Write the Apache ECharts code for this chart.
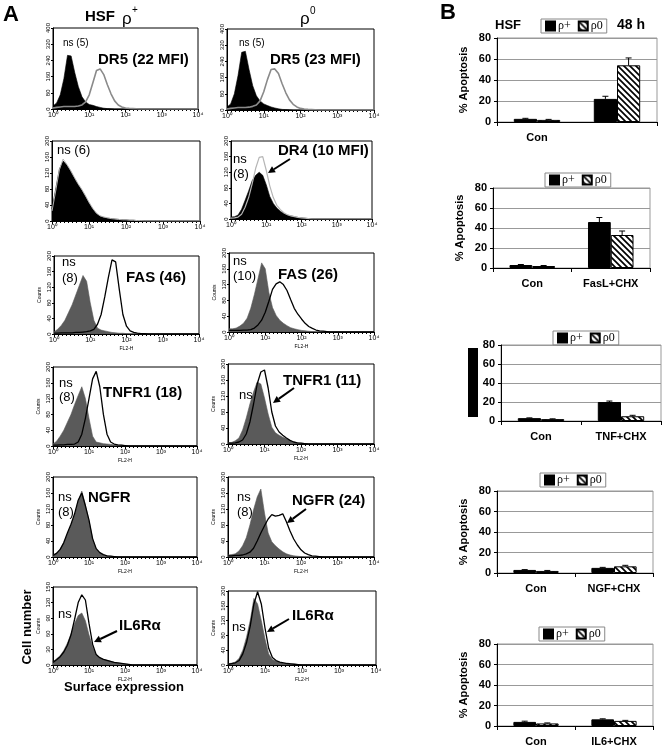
<!DOCTYPE html>
<html><head><meta charset="utf-8">
<script src="https://cdn.jsdelivr.net/npm/echarts@6/dist/echarts.min.js"></script>
<style>html,body{margin:0;padding:0;background:#fff}#c{width:663px;height:750px}</style>
</head><body><div id="c"></div>
<script>
// ---------- DATA ----------
// channel positions (decades, 10^x)
const LOGX = [0,0.1,0.2,0.3,0.4,0.5,0.6,0.7,0.8,0.9,1.0,1.1,1.2,1.3,1.4,1.5,1.6,1.7,1.8,1.9,2.0,2.1,2.2,2.3,2.4,2.5,2.6,2.7,2.8,2.9,3.0,4.0];
const X_TICK_LABELS = ['10\u2070','10\u00b9','10\u00b2','10\u00b3','10\u2074'];

// Row 1: DR5
const R1L_NS  = [15,30,70,150,265,262,180,110,60,35, 22,18,12,8,4,2,1,0,0,0, 0,0,0,0,0,0,0,0,0,0, 0,0];
const R1L_AB  = [5,8,10,12,12,12,12,15,20,35, 70,130,190,198,170,120,75,40,20,10, 5,3,2,1,0,0,0,0,0,0, 0,0];
const R1R_NS  = [15,30,80,170,285,290,200,120,70,45, 30,22,15,10,6,3,2,1,0,0, 0,0,0,0,0,0,0,0,0,0, 0,0];
const R1R_AB  = [5,8,10,12,12,12,14,18,25,45, 90,150,200,203,180,130,85,50,28,15, 8,5,3,2,1,0,0,0,0,0, 0,0];
// Row 2: DR4
const R2L_NS  = [30,80,130,150,140,125,108,92,78,62, 45,30,18,12,9,7,6,5,4,3, 3,2,2,1,1,0,0,0,0,0, 0,0];
const R2L_AB  = [25,75,128,155,142,127,110,94,80,64, 47,32,20,13,10,8,6,5,4,3, 3,2,2,1,1,0,0,0,0,0, 0,0];
const R2R_NS  = [5,6,10,25,48,72,98,112,120,112, 88,58,40,28,20,14,10,8,6,4, 3,2,1,0,0,0,0,0,0,0, 0,0];
const R2R_AB  = [2,3,5,12,30,55,90,130,158,160, 125,85,55,35,24,16,11,8,6,4, 3,2,1,0,0,0,0,0,0,0, 0,0];
// Row 3: FAS
const R3L_NS  = [5,12,22,35,55,75,100,125,150,135, 80,35,15,10,8,6,4,3,2,2, 1,0,0,0,0,0,0,0,0,0, 0,0];
const R3L_AB  = [2,2,3,3,3,3,4,4,5,6, 8,12,25,50,95,145,190,185,115,50, 20,8,4,2,1,1,0,0,0,0, 0,0];
const R3R_NS  = [8,8,10,15,22,35,60,95,135,175, 160,100,62,42,30,22,16,11,8,6, 4,3,2,1,0,0,0,0,0,0, 0,0];
const R3R_AB  = [4,4,4,4,5,5,6,10,18,30, 50,78,108,122,127,120,105,82,60,45, 33,22,14,9,5,3,2,1,0,0, 0,0];
// Row 4: TNFR1
const R4L_NS  = [5,12,25,40,60,80,105,128,150,120, 70,25,10,8,6,5,4,3,2,2, 1,0,0,0,0,0,0,0,0,0, 0,0];
const R4L_AB  = [2,2,3,3,4,4,5,10,30,70, 120,170,189,150,80,30,10,5,3,2, 1,0,0,0,0,0,0,0,0,0, 0,0];
const R4R_NS  = [3,4,8,15,35,65,100,130,155,150, 115,75,42,28,22,17,13,8,5,3, 2,1,0,0,0,0,0,0,0,0, 0,0];
const R4R_AB  = [2,2,3,5,10,25,55,100,150,180, 185,140,80,45,30,22,15,9,5,3, 2,1,0,0,0,0,0,0,0,0, 0,0];
// Row 5: NGFR
const R5L_NS  = [5,10,20,35,58,80,105,140,165,130, 90,45,20,10,5,3,2,1,0,0, 0,0,0,0,0,0,0,0,0,0, 0,0];
const R5L_AB  = [4,9,19,36,60,82,108,142,160,128, 92,46,21,11,6,3,2,1,0,0, 0,0,0,0,0,0,0,0,0,0, 0,0];
const R5R_NS  = [5,6,8,15,28,48,80,118,150,170, 110,60,38,28,20,13,8,5,3,2, 1,0,0,0,0,0,0,0,0,0, 0,0];
const R5R_AB  = [3,3,4,4,5,8,12,22,40,60, 78,95,106,102,104,108,88,65,45,30, 18,10,6,3,2,1,0,0,0,0, 0,0];
// Row 6: IL6Ra
const R6L_NS  = [6,12,18,28,42,60,80,95,100,85, 58,35,20,14,11,9,7,5,4,3, 2,1,0,0,0,0,0,0,0,0, 0,0];
const R6L_AB  = [5,10,16,25,38,58,88,120,135,125, 80,40,20,14,11,9,7,5,4,3, 2,1,0,0,0,0,0,0,0,0, 0,0];
const R6R_NS  = [3,5,8,18,40,75,120,180,165,120, 70,30,15,10,7,5,4,3,2,1, 0,0,0,0,0,0,0,0,0,0, 0,0];
const R6R_AB  = [2,4,6,12,30,60,105,165,198,165, 100,45,20,12,8,6,4,3,2,1, 0,0,0,0,0,0,0,0,0,0, 0,0];

const HIST_YMAX  = [400,400,200,200,200,200,200,200,200,200,150,200];
const HIST_YSTEP = [80,80,40,40,40,40,40,40,40,40,30,40];

// Panel B: % apoptosis
const B1_CATS = ['Con','TRAIL+CHX'];
const B1_PLUS = [3,22];   const B1_PLUS_ERR = [0.5,2.5];
const B1_ZERO = [2,54];   const B1_ZERO_ERR = [0.5,7];
const B2_CATS = ['Con','FasL+CHX'];
const B2_PLUS = [3,46];   const B2_PLUS_ERR = [0.5,4.5];
const B2_ZERO = [2,33];   const B2_ZERO_ERR = [0.5,4];
const B3_CATS = ['Con','TNF+CHX'];
const B3_PLUS = [3,20];   const B3_PLUS_ERR = [0.3,1];
const B3_ZERO = [2,5];    const B3_ZERO_ERR = [0.3,1];
const B4_CATS = ['Con','NGF+CHX'];
const B4_PLUS = [3,5];    const B4_PLUS_ERR = [0.3,0.5];
const B4_ZERO = [2,6.5];  const B4_ZERO_ERR = [0.5,1];
const B5_CATS = ['Con','IL6+CHX'];
const B5_PLUS = [4,6.5];  const B5_PLUS_ERR = [0.7,0.5];
const B5_ZERO = [2.5,5];  const B5_ZERO_ERR = [0.5,0.5];
const SERIES_NAMES = ['\u03c1+','\u03c10'];

// ---------- LAYOUT / STYLE ----------
const SANS = 'Liberation Sans, Arial, sans-serif';
const HIST = [
  {l:53, t:28,  w:145,h:81, ns:R1L_NS, ab:R1L_AB, fill:'#000', line:'#8a8a8a', lw:1.6, fl:false},
  {l:227,t:29,  w:147,h:81, ns:R1R_NS, ab:R1R_AB, fill:'#000', line:'#8a8a8a', lw:1.6, fl:false},
  {l:52, t:141, w:148,h:80, ns:R2L_NS, ab:R2L_AB, fill:'#000', line:'#b5b5b5', lw:1.0, fl:false},
  {l:231,t:141, w:141,h:78, ns:R2R_NS, ab:R2R_AB, fill:'#000', line:'#b5b5b5', lw:1.2, fl:false},
  {l:54, t:256, w:145,h:78, ns:R3L_NS, ab:R3L_AB, fill:'#5a5a5a', line:'#000', lw:1.3, fl:true},
  {l:229,t:253, w:145,h:79, ns:R3R_NS, ab:R3R_AB, fill:'#5a5a5a', line:'#000', lw:1.3, fl:true},
  {l:53, t:367, w:144,h:79, ns:R4L_NS, ab:R4L_AB, fill:'#5a5a5a', line:'#000', lw:1.3, fl:true},
  {l:228,t:364, w:146,h:80, ns:R4R_NS, ab:R4R_AB, fill:'#5a5a5a', line:'#000', lw:1.3, fl:true},
  {l:53, t:477, w:144,h:80, ns:R5L_NS, ab:R5L_AB, fill:'#5a5a5a', line:'#000', lw:1.3, fl:true},
  {l:228,t:477, w:146,h:80, ns:R5R_NS, ab:R5R_AB, fill:'#5a5a5a', line:'#000', lw:1.3, fl:true},
  {l:53, t:587, w:144,h:78, ns:R6L_NS, ab:R6L_AB, fill:'#5a5a5a', line:'#000', lw:1.3, fl:true},
  {l:228,t:591, w:148,h:74, ns:R6R_NS, ab:R6R_AB, fill:'#5a5a5a', line:'#000', lw:1.3, fl:true}
];
const BARS = [
  {l:497,t:38, w:160,h:84, cats:B1_CATS, p:B1_PLUS, pe:B1_PLUS_ERR, z:B1_ZERO, ze:B1_ZERO_ERR, lg:[541,19], yname:true},
  {l:493,t:188,w:157,h:80, cats:B2_CATS, p:B2_PLUS, pe:B2_PLUS_ERR, z:B2_ZERO, ze:B2_ZERO_ERR, lg:[545,173], yname:true},
  {l:501,t:345,w:160,h:76, cats:B3_CATS, p:B3_PLUS, pe:B3_PLUS_ERR, z:B3_ZERO, ze:B3_ZERO_ERR, lg:[553,331], yname:false},
  {l:497,t:491,w:156,h:82, cats:B4_CATS, p:B4_PLUS, pe:B4_PLUS_ERR, z:B4_ZERO, ze:B4_ZERO_ERR, lg:[540,473], yname:true},
  {l:497,t:644,w:156,h:82, cats:B5_CATS, p:B5_PLUS, pe:B5_PLUS_ERR, z:B5_ZERO, ze:B5_ZERO_ERR, lg:[539,627], yname:true}
];
const BAR_FRAC = 0.29;

// hatch pattern
const pc = document.createElement('canvas');
pc.width = 6; pc.height = 6;
const pctx = pc.getContext('2d');
pctx.fillStyle = '#fff'; pctx.fillRect(0,0,6,6);
pctx.strokeStyle = '#000'; pctx.lineWidth = 1.7;
pctx.beginPath();
pctx.moveTo(-2,-2); pctx.lineTo(8,8);
pctx.moveTo(-2,4); pctx.lineTo(2,8);
pctx.moveTo(4,-2); pctx.lineTo(8,2);
pctx.stroke();
const HATCH = {image: pc, repeat: 'repeat'};

const grid = [], xAxis = [], yAxis = [], series = [], legend = [];

HIST.forEach((h, i) => {
  grid.push({left:h.l, top:h.t, width:h.w, height:h.h, show:true, borderColor:'#000', borderWidth:1, containLabel:false});
  xAxis.push({type:'value', gridIndex:i, min:0, max:4, interval:1,
    axisLine:{show:true, lineStyle:{color:'#000', width:1}},
    axisTick:{show:true, length:3, lineStyle:{color:'#000'}},
    minorTick:{show:true, splitNumber:9, length:2, lineStyle:{color:'#000'}},
    splitLine:{show:false}, minorSplitLine:{show:false},
    axisLabel:{fontSize:7, color:'#000', margin:3, fontFamily:SANS, formatter:v => X_TICK_LABELS[Math.round(v)]},
    name: h.fl ? 'FL2-H' : '', nameLocation:'middle', nameGap:12,
    nameTextStyle:{fontSize:5, color:'#000', fontFamily:SANS}
  });
  yAxis.push({type:'value', gridIndex:i, min:0, max:HIST_YMAX[i], interval:HIST_YSTEP[i],
    axisLine:{show:true, lineStyle:{color:'#000', width:1}},
    axisTick:{show:true, length:2, lineStyle:{color:'#000'}},
    splitLine:{show:false},
    axisLabel:{fontSize:6, color:'#000', rotate:90, margin:2, fontFamily:SANS},
    name: h.fl ? 'Counts' : '', nameLocation:'middle', nameGap:12,
    nameTextStyle:{fontSize:5, color:'#000', fontFamily:SANS}
  });
  series.push({type:'line', xAxisIndex:i, yAxisIndex:i, silent:true, showSymbol:false, symbol:'none',
    data: LOGX.map((x,k)=>[x, h.ns[k]]),
    lineStyle:{color:h.fill, width:0.6}, areaStyle:{color:h.fill, opacity:1}, z:2, animation:false});
  series.push({type:'line', xAxisIndex:i, yAxisIndex:i, silent:true, showSymbol:false, symbol:'none',
    data: LOGX.map((x,k)=>[x, h.ab[k]]),
    lineStyle:{color:h.line, width:h.lw}, z:3, animation:false});
});

BARS.forEach((b, j) => {
  const gi = HIST.length + j;
  grid.push({left:b.l, top:b.t, width:b.w, height:b.h, show:true, borderColor:'#999', borderWidth:1});
  xAxis.push({type:'category', gridIndex:gi, data:b.cats,
    axisLine:{lineStyle:{color:'#000', width:1}},
    axisTick:{show:true, length:4, lineStyle:{color:'#000'}},
    axisLabel:{fontSize:11, fontWeight:'bold', color:'#000', margin:10, fontFamily:SANS}
  });
  yAxis.push({type:'value', gridIndex:gi, min:0, max:80, interval:20,
    axisLine:{show:true, lineStyle:{color:'#000', width:1}},
    axisTick:{show:true, length:3, lineStyle:{color:'#000'}},
    splitLine:{show:true, lineStyle:{color:'#999', width:1}},
    axisLabel:{fontSize:11, fontWeight:'bold', color:'#000', margin:6, fontFamily:SANS},
    name: b.yname ? '% Apoptosis' : '', nameLocation:'middle', nameGap:28,
    nameTextStyle:{fontSize:11, fontWeight:'bold', color:'#000', fontFamily:SANS}
  });
  series.push({type:'bar', name:SERIES_NAMES[0], xAxisIndex:gi, yAxisIndex:gi, data:b.p,
    barWidth:(BAR_FRAC*100)+'%', barGap:'0%', silent:true, animation:false,
    itemStyle:{color:'#000', borderColor:'#000', borderWidth:1}});
  series.push({type:'bar', name:SERIES_NAMES[1], xAxisIndex:gi, yAxisIndex:gi, data:b.z,
    barWidth:(BAR_FRAC*100)+'%', barGap:'0%', silent:true, animation:false,
    itemStyle:{color:HATCH, borderColor:'#000', borderWidth:1}});
  const ed = [];
  b.p.forEach((v,k)=>ed.push([k, v, b.pe[k], 0]));
  b.z.forEach((v,k)=>ed.push([k, v, b.ze[k], 1]));
  series.push({type:'custom', xAxisIndex:gi, yAxisIndex:gi, data:ed, silent:true, z:5, animation:false,
    renderItem:(params, api) => {
      const k = api.value(0), v = api.value(1), e = api.value(2), s = api.value(3);
      const band = api.size([1,0])[0];
      const bw = band*BAR_FRAC;
      const cx = api.coord([k,0])[0] + (s === 0 ? -bw/2 : bw/2);
      const y0 = api.coord([k,v])[1], y1 = api.coord([k,v+e])[1];
      return {type:'group', children:[
        {type:'line', shape:{x1:cx,y1:y0,x2:cx,y2:y1}, style:{stroke:'#000', lineWidth:1}},
        {type:'line', shape:{x1:cx-3,y1:y1,x2:cx+3,y2:y1}, style:{stroke:'#000', lineWidth:1}}
      ]};
    }});
  legend.push({data:SERIES_NAMES, left:b.lg[0], top:b.lg[1], orient:'horizontal', icon:'rect',
    itemWidth:9, itemHeight:9, itemGap:7, padding:[1,4,1,4], selectedMode:false,
    borderColor:'#888', borderWidth:1,
    textStyle:{fontSize:12, color:'#000', fontFamily:'Liberation Serif, serif', padding:[0,0,0,-2]}});
});

// ---------- ANNOTATIONS ----------
const G = [];
function txt(t, x, y, size, bold, extra) {
  G.push(Object.assign({type:'text', x, y, z:100, silent:true,
    style:{text:t, fill:'#000', fontSize:size, fontWeight:bold?'bold':'normal', fontFamily:SANS,
      align:'left', verticalAlign:'middle'}}, extra||{}));
}
function arrow(x1,y1,x2,y2) {
  const a = Math.atan2(y2-y1, x2-x1), L = 7, W = 3.5;
  const bx = x2 - L*Math.cos(a), by = y2 - L*Math.sin(a);
  const px = -Math.sin(a)*W, py = Math.cos(a)*W;
  G.push({type:'line', z:100, silent:true, shape:{x1,y1,x2:bx,y2:by}, style:{stroke:'#000', lineWidth:2}});
  G.push({type:'polygon', z:100, silent:true, shape:{points:[[x2,y2],[bx+px,by+py],[bx-px,by-py]]}, style:{fill:'#000'}});
}
txt('A', 3, 15, 22, true);
txt('HSF', 85, 17, 15, true);
txt('\u03c1', 122, 19, 17, false);
txt('+', 132, 10, 10, false);
txt('\u03c1', 300, 19, 17, false);
txt('0', 310, 11, 10, false);
txt('B', 440, 13, 22, true);

txt('ns (5)', 63, 43, 10, false);  txt('DR5 (22 MFI)', 98, 60, 15, true);
txt('ns (5)', 239, 43, 10, false); txt('DR5 (23 MFI)', 270, 60, 15, true);
txt('ns (6)', 57, 150, 13, false);
txt('ns', 233, 159, 13, false); txt('(8)', 233, 174, 13, false); txt('DR4 (10 MFI)', 278, 151, 15, true);
arrow(290,159,268,173);
txt('ns', 62, 262, 13, false); txt('(8)', 62, 278, 13, false); txt('FAS (46)', 126, 278, 15, true);
txt('ns', 233, 261, 13, false); txt('(10)', 233, 276, 13, false); txt('FAS (26)', 278, 275, 15, true);
txt('ns', 59, 383, 13, false); txt('(8)', 59, 397, 13, false); txt('TNFR1 (18)', 103, 393, 15, true);
txt('ns', 239, 395, 13, false); txt('TNFR1 (11)', 283, 381, 15, true);
arrow(294,388,273,403);
txt('ns', 58, 497, 13, false); txt('(8)', 58, 512, 13, false); txt('NGFR', 88, 498, 15, true);
txt('ns', 237, 497, 13, false); txt('(8)', 237, 512, 13, false); txt('NGFR (24)', 292, 501, 15, true);
arrow(306,509,287,523);
txt('ns', 58, 614, 13, false); txt('IL6R\u03b1', 119, 626, 15, true);
arrow(117,631,94,642);
txt('ns', 232, 627, 13, false); txt('IL6R\u03b1', 292, 616, 15, true);
arrow(289,619,267,632);
G.push({type:'text', x:27, y:627, rotation:Math.PI/2, z:100, silent:true,
  style:{text:'Cell number', fill:'#000', fontSize:13, fontWeight:'bold', fontFamily:SANS, align:'center', verticalAlign:'middle'}});
txt('Surface expression', 64, 687, 13, true);

txt('HSF', 495, 25, 13, true);
txt('48 h', 617, 25, 14, true);
G.push({type:'rect', z:100, silent:true, shape:{x:468, y:348, width:10, height:69}, style:{fill:'#000'}});

const chart = echarts.init(document.getElementById('c'), null, {renderer:'canvas'});
chart.setOption({backgroundColor:'#fff', animation:false, grid, xAxis, yAxis, series, legend, graphic:{elements:G}});
</script></body></html>
